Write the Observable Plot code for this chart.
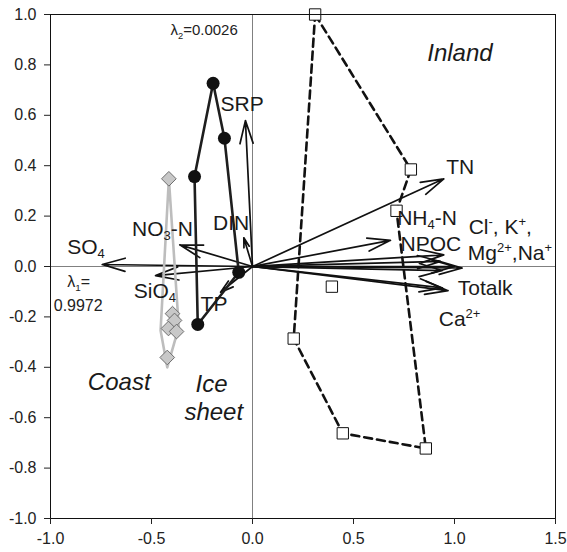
<!DOCTYPE html>
<html><head><meta charset="utf-8">
<script src="https://cdn.jsdelivr.net/npm/d3@7"></script>
<script src="https://cdn.jsdelivr.net/npm/@observablehq/plot@0.6"></script>
<style>body{margin:0;background:#fff}</style>
</head><body><div id="chart"></div>
<script>
// ---- axis ticks ----
const xTicks = [-1.0, -0.5, 0.0, 0.5, 1.0, 1.5];
const yTicks = [-1.0, -0.8, -0.6, -0.4, -0.2, 0.0, 0.2, 0.4, 0.6, 0.8, 1.0];

// ---- environmental variable vectors (arrow tips, from origin) ----
const varNames = ["SRP", "SO4", "NO3-N", "DIN", "SiO4", "TP", "TN", "NH4-N", "NPOC", "K", "Cl", "Mg", "Na", "Totalk", "Ca"];
const varX = [-0.035, -0.744, -0.360, -0.043, -0.480, -0.158, 0.947, 0.683, 0.947, 0.930, 0.939, 1.000, 1.038, 0.968, 0.940];
const varY = [0.579, 0.008, 0.086, 0.114, -0.036, -0.102, 0.348, 0.104, 0.046, 0.020, -0.016, 0.000, -0.006, -0.096, -0.085];

// ---- site scores ----
const iceX = [-0.195, -0.139, -0.287, -0.271, -0.068];
const iceY = [0.727, 0.509, 0.357, -0.230, -0.023];
const iceHullOrder = [0, 1, 4, 3, 2, 0];

const coastX = [-0.414, -0.396, -0.386, -0.416, -0.376, -0.422];
const coastY = [0.348, -0.187, -0.214, -0.246, -0.258, -0.361];
const coastHullX = [-0.414, -0.365, -0.422, -0.455, -0.414];
const coastHullY = [0.348, -0.241, -0.400, -0.254, 0.348];

const inlandX = [0.310, 0.784, 0.713, 0.393, 0.204, 0.447, 0.858];
const inlandY = [1.000, 0.385, 0.221, -0.080, -0.286, -0.662, -0.722];
const inlandHullOrder = [0, 1, 2, 6, 5, 4, 0];

// ---- labels (baseline-left anchored) ----
const labelText = ["SRP", "SO_{4}", "NO_{3}-N", "DIN", "SiO_{4}", "TP", "TN", "NH_{4}-N", "NPOC", "Cl^{-}, K^{+},", "Mg^{2+},Na^{+}", "Totalk", "Ca^{2+}"];
const labelX = [-0.158, -0.917, -0.596, -0.195, -0.588, -0.257, 0.959, 0.716, 0.733, 1.070, 1.066, 1.016, 0.922];
const labelY = [0.619, 0.048, 0.123, 0.143, -0.124, -0.177, 0.368, 0.166, 0.060, 0.130, 0.024, -0.115, -0.238];

const groupText = ["Inland", "Coast", "Ice", "sheet"];
const groupX = [0.865, -0.815, -0.282, -0.337];
const groupY = [0.817, -0.492, -0.499, -0.608];

const eigText = ["λ_{2}=0.0026", "λ_{1}=", "0.9972"];
const eigX = [-0.406, -0.917, -0.984];
const eigY = [0.917, -0.082, -0.177];
const eigSize = [15, 16, 16];

// ---- build tables ----
const vars = varNames.map((n, i) => ({name: n, x: varX[i], y: varY[i]}));
const ice = iceX.map((x, i) => ({x, y: iceY[i]}));
const iceHull = iceHullOrder.map(i => ice[i]);
const coast = coastX.map((x, i) => ({x, y: coastY[i]}));
const coastHull = coastHullX.map((x, i) => ({x, y: coastHullY[i]}));
const inland = inlandX.map((x, i) => ({x, y: inlandY[i]}));
const inlandHull = inlandHullOrder.map(i => inland[i]);
const labels = labelText.map((t, i) => ({t, x: labelX[i], y: labelY[i]}));
const groups = groupText.map((t, i) => ({t, x: groupX[i], y: groupY[i]}));
const eigs = eigText.map((t, i) => ({t, x: eigX[i], y: eigY[i], s: eigSize[i]}));

const fmt = d => d.toFixed(1);

const plot = Plot.plot({
  width: 567,
  height: 552,
  marginLeft: 50,
  marginRight: 12,
  marginTop: 14,
  marginBottom: 34,
  style: {fontFamily: "'Liberation Sans', Arial, sans-serif", fontSize: "16px", color: "#222", background: "#fff"},
  x: {domain: [-1, 1.5]},
  y: {domain: [-1, 1]},
  marks: [
    Plot.ruleX([0], {stroke: "#808080", strokeWidth: 1}),
    Plot.ruleY([0], {stroke: "#808080", strokeWidth: 1}),
    Plot.arrow(vars, {x1: 0, y1: 0, x2: "x", y2: "y", stroke: "#111", strokeWidth: 1.7, headLength: 21, headAngle: 32}),
    Plot.line(coastHull, {x: "x", y: "y", stroke: "#bdbdbd", strokeWidth: 2.6}),
    Plot.line(iceHull, {x: "x", y: "y", stroke: "#1e1e1e", strokeWidth: 2.6}),
    Plot.line(inlandHull, {x: "x", y: "y", stroke: "#111", strokeWidth: 2.6, strokeDasharray: "8,5"}),
    Plot.dot(ice, {x: "x", y: "y", r: 6.5, fill: "#111", stroke: "none"}),
    Plot.dot(coast, {x: "x", y: "y", r: 6.6, symbol: "diamond2", fill: "#c8c8c8", stroke: "#6e6e6e", strokeWidth: 1}),
    Plot.dot(inland, {x: "x", y: "y", r: 6.4, symbol: "square", fill: "#fff", stroke: "#111", strokeWidth: 1}),
    Plot.text(labels, {x: "x", y: "y", text: "t", textAnchor: "start", lineAnchor: "bottom", fontSize: 21, fill: "#1a1a1a"}),
    Plot.text(groups, {x: "x", y: "y", text: "t", textAnchor: "start", lineAnchor: "bottom", fontSize: 24, fontStyle: "italic", fill: "#1a1a1a"}),
    Plot.text(eigs, {x: "x", y: "y", text: "t", textAnchor: "start", lineAnchor: "bottom", fontSize: "s", fill: "#222"}),
    Plot.frame({stroke: "#111", strokeWidth: 1}),
    Plot.axisX({ticks: xTicks, tickFormat: fmt, tickSize: 6, tickPadding: 8, fontSize: 16, label: null}),
    Plot.axisY({ticks: yTicks, tickFormat: fmt, tickSize: 6, tickPadding: 8, fontSize: 16, label: null})
  ]
});

// rich text: _{..} subscripts and ^{..} superscripts as tspans
function richify(svg) {
  svg.querySelectorAll("text").forEach(t => {
    const s = t.textContent;
    if (!/[_^]\{/.test(s) || t.children.length) return;
    t.textContent = "";
    const re = /([_^])\{([^}]*)\}/g;
    let last = 0, m, shift = 0;
    const add = (str, kind) => {
      const ts = document.createElementNS("http://www.w3.org/2000/svg", "tspan");
      ts.textContent = str;
      const target = kind === "_" ? 4 : kind === "^" ? -8 : 0;
      const dy = target - shift;
      if (dy) ts.setAttribute("dy", dy);
      shift = target;
      if (kind) ts.setAttribute("font-size", "0.62em");
      t.appendChild(ts);
    };
    while ((m = re.exec(s))) {
      if (m.index > last) add(s.slice(last, m.index), null);
      add(m[2], m[1]);
      last = re.lastIndex;
    }
    if (last < s.length) add(s.slice(last), null);
  });
}
richify(plot);
document.getElementById("chart").appendChild(plot);
</script>
</body></html>
